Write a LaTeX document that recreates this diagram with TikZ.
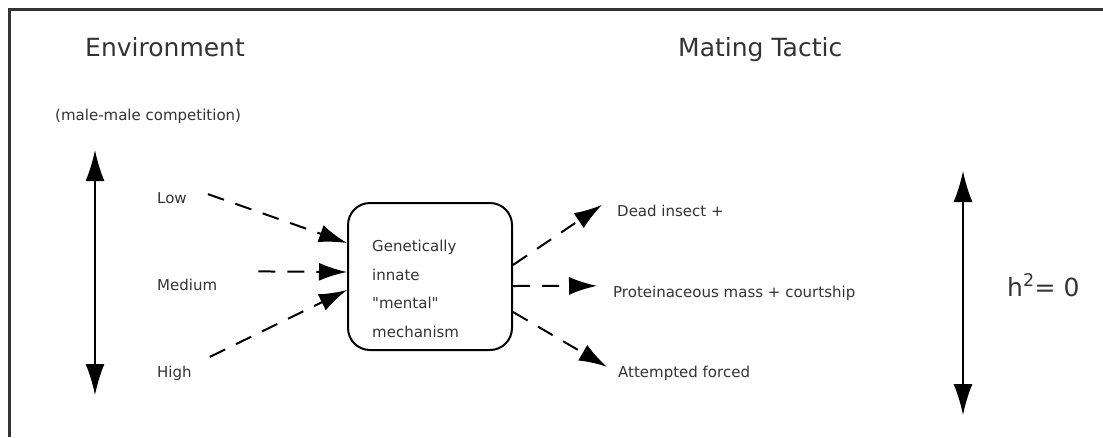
\documentclass[tikz,border=0pt]{standalone}
\usepackage{fontspec}
\setmainfont{DejaVu Sans}[Ligatures=TeXOff]
\usetikzlibrary{arrows.meta,calc}

\tikzset{
    lbl/.style={anchor=base west,inner sep=0pt,text=black!80,font=\fontsize{15}{18}\selectfont},
    heading/.style={anchor=base west,inner sep=0pt,text=black!80,font=\fontsize{25}{30}\selectfont},
    dasharrow/.style={line width=2pt,dash pattern=on 17pt off 12pt,-{Latex[length=28pt,width=18pt]}},
    bigarrow/.style={line width=1.6pt,{Latex[length=31pt,width=19pt]}-{Latex[length=31pt,width=19pt]}},
    mechbox/.style={draw,line width=2pt,rounded corners=22pt,minimum width=164pt,minimum height=147pt}
}

\begin{document}
\begin{tikzpicture}[x=1pt,y=-1pt]
    \useasboundingbox (0,0) rectangle (1103,437);
    \draw[line width=3pt,black!80] (1103,9) -- (9,9) -- (9,437);

    \node[heading] (env) at (85,56) {Environment};
    \node[heading] (tactic) at (678,56) {Mating Tactic};
    \node[lbl] (comp) at (55,120) {(male-male competition)};

    % environment levels
    \node[lbl] (low) at (157,203) {Low};
    \node[lbl] (medium) at (157,290) {Medium};
    \node[lbl] (high) at (157,377) {High};

    \node[mechbox] (box) at (430,276.5) {};
    \node[lbl,anchor=west,align=left,font=\fontsize{15}{28.5}\selectfont] (mech)
        at ([xshift=25pt,yshift=-12.5pt]box.west)
        {Genetically\\innate\\"mental"\\mechanism};

    % tactics
    \node[lbl] (dead) at (617,216) {Dead insect +};
    \node[lbl] (prot) at (613,297) {Proteinaceous mass + courtship};
    \node[lbl] (forced) at (618,377) {Attempted forced};

    \node[heading] (herit) at (1007,296) {h\textsuperscript{2}= 0};

    \coordinate (envtop) at (95,150);
    \coordinate (envbot) at (95,395);
    \coordinate (hertop) at (963,171);
    \coordinate (herbot) at (963,415);
    \draw[bigarrow] (envtop) -- (envbot);
    \draw[bigarrow] (hertop) -- (herbot);

    \draw[dasharrow] ([xshift=21pt,yshift=3.5pt]low.east) -- ([yshift=33.5pt]box.west);
    \draw[dasharrow] ([xshift=41pt,yshift=13pt]medium.east) -- ([yshift=4.5pt]box.west);
    \draw[dasharrow] ([xshift=18pt,yshift=16pt]high.east) -- ([yshift=-13.5pt]box.west);

    \draw[dasharrow] ([yshift=11.5pt]box.east) -- ([xshift=-15pt,yshift=5.5pt]dead.west);
    \draw[dasharrow] ([yshift=-9.5pt]box.east) -- ([xshift=-16pt,yshift=7pt]prot.west);
    \draw[dasharrow] ([yshift=-35.5pt]box.east) -- ([xshift=-11pt,yshift=6pt]forced.west);
\end{tikzpicture}
\end{document}
